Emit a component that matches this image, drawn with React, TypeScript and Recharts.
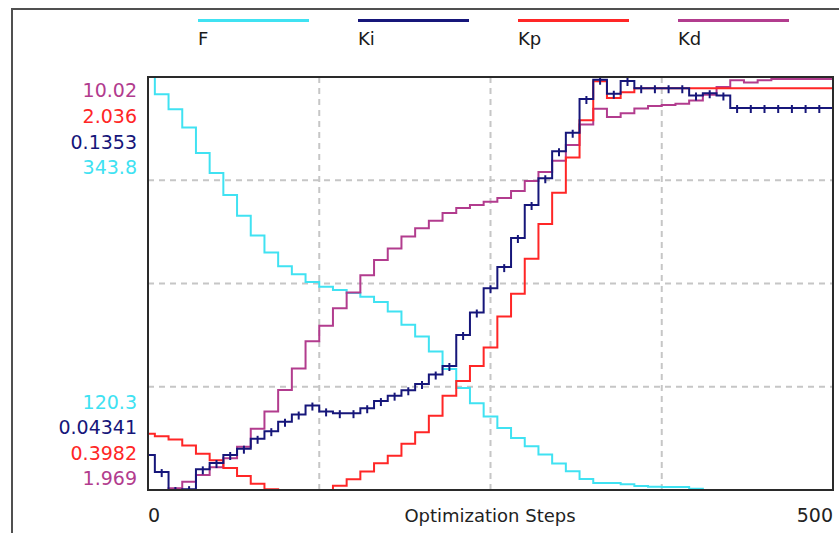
import React from 'react';
import { LineChart, Line, XAxis, YAxis, ReferenceLine } from 'recharts';

// optimization step grid
const steps = [
  0, 10, 20, 30, 40, 50, 60, 70, 80, 90, 100, 110, 120, 130, 140, 150, 160, 170, 180, 190, 200,
  210, 220, 230, 240, 250, 260, 270, 280, 290, 300, 310, 320, 330, 340, 350, 360, 370, 380, 390,
  400, 410, 420, 430, 440, 450, 460, 470, 480, 490, 500,
];

const fValues = [
  343.8, 334.4, 326.4, 316.5, 302.7, 291.9, 279.9, 268.7, 258.0, 248.8, 241.4, 237.0, 232.9, 230.3,
  228.5, 226.9, 224.9, 222.0, 216.9, 209.7, 203.4, 195.2, 185.8, 175.5, 167.2, 160.1, 153.8, 148.5,
  144.0, 139.5, 134.6, 130.4, 126.3, 124.1, 124.1, 123.4, 122.5, 122.1, 121.9, 121.9, 121.0, 120.3,
  120.3, 120.3, 120.3, 120.3, 120.3, 120.3, 120.3, 120.3, 120.3,
];

const kiValues = [
  0.0512, 0.0474, 0.0434, 0.0436, 0.048, 0.0494, 0.0512, 0.0526, 0.0548, 0.0565, 0.0586, 0.0602,
  0.0622, 0.0609, 0.0605, 0.0605, 0.0616, 0.0632, 0.0644, 0.0656, 0.067, 0.0691, 0.071, 0.0779,
  0.0829, 0.0883, 0.093, 0.0995, 0.1068, 0.1128, 0.1188, 0.1229, 0.1304, 0.1347, 0.1316, 0.1344,
  0.1328, 0.1328, 0.1328, 0.1328, 0.1312, 0.1317, 0.1312, 0.1284, 0.1284, 0.1284, 0.1284, 0.1284,
  0.1284, 0.1284, 0.1284,
];

const kpValues = [
  0.6209, 0.6111, 0.598, 0.5751, 0.5423, 0.5161, 0.485, 0.4539, 0.4228, 0.4015, 0.3982, 0.3982,
  0.3982, 0.3982, 0.4146, 0.4408, 0.4719, 0.5047, 0.5341, 0.5816, 0.6275, 0.693, 0.7716, 0.8306,
  0.8895, 0.9632, 1.0861, 1.1762, 1.3154, 1.4529, 1.5774, 1.7166, 1.864, 2.0196, 1.9525, 1.9754,
  1.9918, 1.9918, 1.9918, 1.9918, 1.9918, 1.9918, 1.9918, 1.9918, 1.9918, 1.9918, 1.9918, 1.9918,
  1.9918, 1.9918, 1.9918,
];

const kdValues = [
  1.969, 1.969, 2.001, 2.13, 2.259, 2.412, 2.589, 2.814, 3.161, 3.499, 3.917, 4.336, 4.867, 5.173,
  5.511, 5.817, 6.156, 6.453, 6.679, 6.912, 7.073, 7.218, 7.371, 7.468, 7.524, 7.589, 7.661, 7.798,
  7.991, 8.168, 8.386, 8.692, 9.094, 9.4, 9.239, 9.311, 9.408, 9.456, 9.473, 9.497, 9.561, 9.674,
  9.827, 9.955, 9.915, 9.955, 9.98, 9.98, 9.98, 9.98, 9.98,
];

// each series is scaled to its own range, shown as min / max labels on the left
const seriesNames = ['F', 'Ki', 'Kp', 'Kd'];
const seriesColors = ['#40E2F2', '#16167A', '#FF2626', '#B23C8E'];
const rangeMin = [120.3, 0.04341, 0.3982, 1.969];
const rangeMax = [343.8, 0.1353, 2.036, 10.02];
const minLabels = ['120.3', '0.04341', '0.3982', '1.969'];
const maxLabels = ['343.8', '0.1353', '2.036', '10.02'];

const xTicks = [0, 500];
const gridSteps = [125, 250, 375];
const gridFractions = [0.25, 0.5, 0.75];
// horizontal grid drawn on the F axis
const gridLevels = gridFractions.map((f) => rangeMin[0] + f * (rangeMax[0] - rangeMin[0]));

const chartData = steps.map((step, i) => ({
  step,
  F: fValues[i],
  Ki: kiValues[i],
  Kp: kpValues[i],
  Kd: kdValues[i],
}));

const W = 839;
const H = 533;
const FONT = '"DejaVu Sans", Verdana, sans-serif';
const GRID = '#c6c6c6';

const XTick = (props: any) => {
  const { x, y, payload } = props;
  const first = payload.value === xTicks[0];
  return (
    <text
      x={x}
      y={y + 32}
      textAnchor={first ? 'start' : 'end'}
      fontFamily={FONT}
      fontSize={19}
      fill="#222"
    >
      {payload.value}
    </text>
  );
};

// little vertical ticks the optimizer leaves on the Ki trace
const KiSpike = (props: any) => {
  const { cx, cy, index } = props;
  if (cx == null || cy == null) return <g key={'s' + index} />;
  return (
    <line
      key={'s' + index}
      x1={cx}
      x2={cx}
      y1={cy - 3}
      y2={cy + 5}
      stroke={seriesColors[1]}
      strokeWidth={2}
    />
  );
};

const drawOrder = [0, 3, 2, 1];

const App: React.FC = () => {
  return (
    <div
      style={{
        position: 'fixed',
        left: 0,
        top: 0,
        width: W,
        height: H,
        overflow: 'hidden',
        background: '#ffffff',
        fontFamily: FONT,
      }}
    >
      {/* outer frame */}
      <div
        style={{
          position: 'absolute',
          left: 11,
          top: 8,
          width: 900,
          height: 700,
          borderLeft: '2px solid #505050',
          borderTop: '2px solid #505050',
        }}
      />

      {/* legend */}
      {seriesNames.map((name, i) => (
        <div key={name} style={{ position: 'absolute', left: 198 + i * 160, top: 19 }}>
          <div style={{ width: 111, height: 3, background: seriesColors[i] }} />
          <div style={{ fontSize: 18, lineHeight: '20px', marginTop: 7, color: '#1a1a1a' }}>
            {name}
          </div>
        </div>
      ))}

      {/* max labels, top of plot */}
      {[3, 2, 1, 0].map((idx, row) => (
        <div
          key={'max' + idx}
          style={{
            position: 'absolute',
            right: W - 137,
            top: 80 + row * 25.8,
            fontSize: 19,
            lineHeight: '20px',
            color: seriesColors[idx],
            whiteSpace: 'nowrap',
          }}
        >
          {maxLabels[idx]}
        </div>
      ))}

      {/* min labels, bottom of plot */}
      {[0, 1, 2, 3].map((idx, row) => (
        <div
          key={'min' + idx}
          style={{
            position: 'absolute',
            right: W - 137,
            top: 392 + row * 25.4,
            fontSize: 19,
            lineHeight: '20px',
            color: seriesColors[idx],
            whiteSpace: 'nowrap',
          }}
        >
          {minLabels[idx]}
        </div>
      ))}

      <div style={{ position: 'absolute', left: 0, top: 0 }}>
        <LineChart
          width={W}
          height={H}
          data={chartData}
          margin={{ top: 77, right: 6, bottom: 13, left: 148 }}
        >
          <XAxis
            dataKey="step"
            type="number"
            domain={[0, 500]}
            ticks={xTicks}
            interval={0}
            axisLine={false}
            tickLine={false}
            tickSize={0}
            tickMargin={0}
            height={30}
            tick={<XTick />}
          />
          {seriesNames.map((name, i) => (
            <YAxis
              key={name}
              yAxisId={name}
              domain={[rangeMin[i], rangeMax[i]]}
              allowDataOverflow
              hide
            />
          ))}
          {gridSteps.map((s) => (
            <ReferenceLine
              key={'gx' + s}
              x={s}
              yAxisId="F"
              stroke={GRID}
              strokeWidth={2}
              strokeDasharray="6 5"
            />
          ))}
          {gridLevels.map((g, k) => (
            <ReferenceLine
              key={'gy' + k}
              y={g}
              yAxisId="F"
              stroke={GRID}
              strokeWidth={2}
              strokeDasharray="6 5"
            />
          ))}
          {drawOrder.map((i) => (
            <Line
              key={seriesNames[i]}
              yAxisId={seriesNames[i]}
              dataKey={seriesNames[i]}
              type="step"
              stroke={seriesColors[i]}
              strokeWidth={2}
              dot={i === 1 ? <KiSpike /> : false}
              isAnimationActive={false}
            />
          ))}
        </LineChart>
      </div>

      {/* plot frame */}
      <div
        style={{
          position: 'absolute',
          left: 147,
          top: 76,
          width: 687,
          height: 415,
          border: '2px solid #2a2a2a',
          boxSizing: 'border-box',
          pointerEvents: 'none',
        }}
      />

      {/* x axis title */}
      <div
        style={{
          position: 'absolute',
          left: 340,
          width: 300,
          top: 506,
          textAlign: 'center',
          fontSize: 18,
          lineHeight: '20px',
          color: '#222',
        }}
      >
        Optimization Steps
      </div>
    </div>
  );
};

export default App;
